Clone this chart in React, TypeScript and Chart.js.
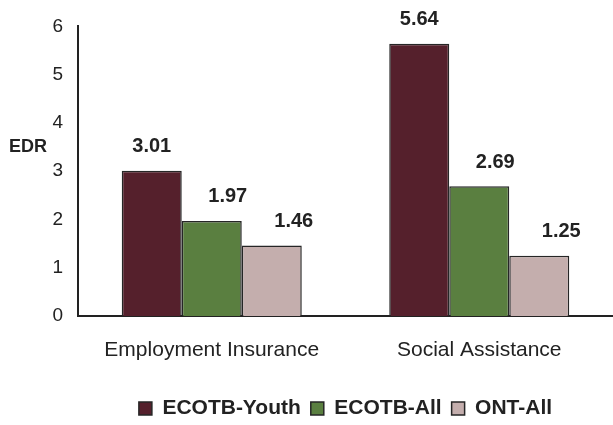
import React, { useEffect, useRef } from "react";
import { Chart, registerables } from "chart.js";

Chart.register(...registerables);

const categories = ["Employment Insurance", "Social Assistance"];
const seriesNames = ["ECOTB-Youth", "ECOTB-All", "ONT-All"];
const youth = [3.01, 5.64];
const all = [1.97, 2.69];
const ont = [1.46, 1.25];
const yTicks = [0, 1, 2, 3, 4, 5, 6];
const colors = ["#55202C", "#5A7F40", "#C4AEAD"];
const labelShift = [0, 16, 22];

const FONT = "'Liberation Sans', Arial, sans-serif";

const labelPlugin = {
  id: "barLabels",
  afterLayout(chart: any) {
    const lg = chart.legend;
    if (lg) {
      lg.left = chart.chartArea.left;
      lg.right = chart.chartArea.right;
      lg.top += 4;
      lg.bottom += 4;
    }
  },
  afterDatasetsDraw(chart: any) {
    const ctx = chart.ctx;
    ctx.save();
    ctx.font = `bold 20px ${FONT}`;
    ctx.fillStyle = "#222";
    ctx.textAlign = "center";
    ctx.textBaseline = "middle";
    chart.data.datasets.forEach((ds: any, i: number) => {
      const meta = chart.getDatasetMeta(i);
      meta.data.forEach((bar: any, j: number) => {
        const v = ds.data[j];
        ctx.fillText(v.toFixed(2), bar.x + labelShift[i], bar.y - 24);
      });
    });
    ctx.font = `bold 18px ${FONT}`;
    ctx.textAlign = "left";
    ctx.fillText("EDR", 9, chart.scales.y.getPixelForValue(3.5));
    ctx.restore();
  },
};

export default function App() {
  const ref = useRef<HTMLCanvasElement>(null);
  useEffect(() => {
    const ds = [youth, all, ont].map((d, i) => ({
      label: seriesNames[i],
      data: d,
      backgroundColor: colors[i],
      borderColor: "#262626",
      borderWidth: 1.5,
      barPercentage: 1,
      categoryPercentage: 0.673,
    }));
    const chart = new Chart(ref.current!, {
      type: "bar",
      data: { labels: categories, datasets: ds },
      plugins: [labelPlugin],
      options: {
        animation: false,
        responsive: false,
        layout: { padding: { top: 23, right: 0, bottom: 0, left: 0 } },
        plugins: {
          tooltip: { enabled: false },
          legend: {
            position: "bottom",
            labels: {
              boxWidth: 13,
              boxHeight: 13,
              color: "#222",
              font: { family: FONT, size: 21, weight: "bold" },
              padding: 10,
            },
          },
        },
        scales: {
          x: {
            grid: { display: false, drawTicks: false },
            border: { display: true, color: "#222", width: 2 },
            ticks: { color: "#222", font: { family: FONT, size: 21 }, padding: 22 },
            afterFit: (s: any) => {
              s.height = 68;
            },
          },
          y: {
            min: 0,
            max: 6,
            grid: { display: false, drawTicks: false },
            border: { display: true, color: "#222", width: 2 },
            afterBuildTicks: (s: any) => {
              s.ticks = yTicks.map((v) => ({ value: v }));
            },
            ticks: { color: "#222", font: { family: FONT, size: 19 }, padding: 15 },
            afterFit: (s: any) => {
              s.width = 78;
            },
          },
        },
      },
    });
    return () => chart.destroy();
  }, []);
  return (
    <div style={{ position: "fixed", left: 0, top: 0, width: 613, height: 425, background: "#fff" }}>
      <canvas ref={ref} width={613} height={425} />
    </div>
  );
}
